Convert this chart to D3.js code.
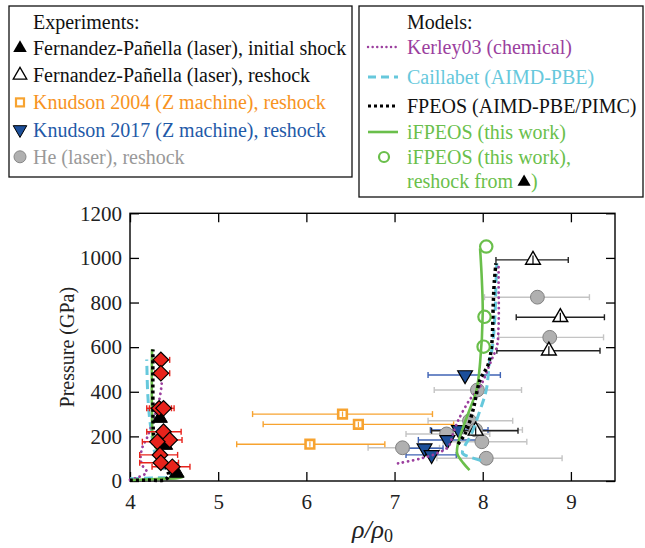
<!DOCTYPE html>
<html><head><meta charset="utf-8">
<script src="https://cdn.jsdelivr.net/npm/d3@7"></script>
<style>
body{margin:0;background:#fff}
svg{display:block;font-family:"Liberation Serif","Times New Roman",serif}
</style></head><body>
<svg width="645" height="548"></svg>
<script>
// [rho/rho0, P (GPa)]
const kerleyLeft = [[4.0,5],[4.1,18],[4.19,40],[4.14,70],[4.12,100],[4.14,150],[4.2,200],[4.27,280],[4.33,360],[4.36,440],[4.36,470]]
const kerleyRight = [[7.04,79],[7.29,100],[7.48,124],[7.61,154],[7.67,220],[7.72,270],[7.85,363],[7.97,423],[8.1,543],[8.16,602],[8.18,700],[8.18,886],[8.18,965]]
const caillLeft = [[4.0,10],[4.25,14],[4.5,20],[4.45,35],[4.35,70],[4.28,130],[4.25,200],[4.22,290],[4.2,400],[4.19,545]]
const caillRight = [[7.98,92],[7.85,108],[7.77,125],[7.8,160],[7.86,200],[7.97,318],[8.04,408],[8.08,543],[8.11,602],[8.14,752],[8.15,886],[8.16,976]]
const fpeosLeft = [[4.0,3],[4.2,4],[4.4,6],[4.44,25],[4.42,50],[4.36,100],[4.3,150],[4.27,200],[4.26,350],[4.26,590]]
const fpeosRight = [[7.72,165],[7.78,199],[7.82,229],[7.89,318],[7.97,453],[8.06,520],[8.1,602],[8.12,800],[8.13,886],[8.15,976]]
const ifpeosLeft = [[4.0,4],[4.3,9],[4.6,19],[4.49,42],[4.38,100],[4.27,170],[4.25,300],[4.25,590]]
const ifpeosRight = [[7.85,49],[7.78,80],[7.71,124],[7.72,169],[7.78,244],[7.85,318],[7.93,408],[7.97,529],[8.0,752],[7.99,901],[7.97,1043]]
const ifpeosReshock = [[8.04,1051],[8.02,736],[8.01,602]]

// [rho/rho0, P, rho low, rho high]
const fpInitial = [[4.34,282,4.34,4.34],[4.4,161,4.4,4.4],[4.53,36,4.53,4.53]]
const fpReshock = [[8.57,991,8.15,8.97],[8.88,734,8.38,9.38],[8.75,584,8.16,9.33],[7.92,225,7.42,8.4]]
const knudson2004 = [[6.41,300,5.39,7.43],[6.59,254,5.51,7.67],[6.04,165,5.21,6.89]]
const knudson2017 = [[7.8,475,7.38,8.2],[7.73,229,7.41,8.06],[7.6,184,7.27,7.97],[7.34,147,7.16,7.55],[7.42,117,7.13,7.7]]
const heReshock = [[8.62,824,8.02,9.21],[8.76,644,8.18,9.37],[7.94,408,7.45,8.44],[7.85,270,7.38,8.34],[7.92,229,7.4,8.45],[7.59,211,7.13,8.08],[7.99,176,7.55,8.5],[7.09,149,6.7,7.51],[8.04,102,7.48,8.9]]
const redPoints = [[4.35,543,4.29,4.45],[4.35,483,4.28,4.45],[4.33,326,4.19,4.47],[4.38,326,4.22,4.5],[4.38,221,4.19,4.58],[4.45,184,4.32,4.59],[4.31,176,4.14,4.45],[4.34,117,4.11,4.54],[4.35,82,4.11,4.55],[4.48,64,4.25,4.68]]

const xTicks = [4,5,6,7,8,9]
const yTicks = [0,200,400,600,800,1000,1200]

const col = {kerley:'#9b3f9e', caill:'#66c8dc', fpeos:'#000', ifpeos:'#6abf4b', orange:'#f7a330', orangeText:'#f7931e',
  blue:'#1c4f9a', blueText:'#1f5aa8', gray:'#b0b0b0', grayText:'#999', red:'#e8231c'}

const svg = d3.select('svg')
const x = d3.scaleLinear().domain([4, 9.5]).range([130, 615])
const y = d3.scaleLinear().domain([0, 1200]).range([481, 213.3])

// axes
const tickFont = g => g.selectAll('text').attr('font-size', 21).attr('fill', '#222').attr('font-family', '"Liberation Serif",serif')
svg.append('g').attr('transform', `translate(0,${y(0)})`)
  .call(d3.axisBottom(x).tickValues(xTicks).tickSize(-9).tickPadding(13).tickFormat(d3.format('d')))
  .call(g => g.select('.domain').remove()).call(tickFont)
svg.append('g').attr('transform', `translate(${x(4)},0)`)
  .call(d3.axisLeft(y).tickValues(yTicks).tickSize(-9).tickPadding(8).tickFormat(d3.format('d')))
  .call(g => g.select('.domain').remove()).call(tickFont)
svg.append('g').attr('transform', `translate(0,${y(1200)})`)
  .call(d3.axisTop(x).tickValues(xTicks).tickSize(-9).tickFormat(''))
  .call(g => g.select('.domain').remove())
svg.append('g').attr('transform', `translate(${x(9.5)},0)`)
  .call(d3.axisRight(y).tickValues(yTicks).tickSize(-9).tickFormat(''))
  .call(g => g.select('.domain').remove())
svg.selectAll('.tick line').attr('stroke', '#000').attr('stroke-width', 1.3)
svg.append('rect').attr('x', x(4)).attr('y', y(1200)).attr('width', x(9.5) - x(4)).attr('height', y(0) - y(1200))
  .attr('fill', 'none').attr('stroke', '#000').attr('stroke-width', 1.4)

svg.append('text').attr('transform', `translate(74,${(y(0) + y(1200)) / 2}) rotate(-90)`)
  .attr('text-anchor', 'middle').attr('font-size', 20).attr('fill', '#222').text('Pressure (GPa)')
const xl = svg.append('text').attr('x', (x(4) + x(9.5)) / 2).attr('y', 538).attr('text-anchor', 'middle')
  .attr('font-size', 26).attr('fill', '#222')
xl.append('tspan').attr('font-style', 'italic').text('ρ/ρ')
xl.append('tspan').attr('font-size', 18).attr('dy', 4).text('0')

const plot = svg.append('g')

function errorBars(data, color, cap = 3) {
  const g = plot.append('g').attr('stroke', color).attr('stroke-width', 1.4)
  data.filter(d => d[3] > d[2]).forEach(d => {
    g.append('line').attr('x1', x(d[2])).attr('x2', x(d[3])).attr('y1', y(d[1])).attr('y2', y(d[1]))
    g.append('line').attr('x1', x(d[2])).attr('x2', x(d[2])).attr('y1', y(d[1]) - cap).attr('y2', y(d[1]) + cap)
    g.append('line').attr('x1', x(d[3])).attr('x2', x(d[3])).attr('y1', y(d[1]) - cap).attr('y2', y(d[1]) + cap)
  })
}
function vBars(data, color, dp) {
  const g = plot.append('g').attr('stroke', color).attr('stroke-width', 1.2)
  data.forEach(d => {
    g.append('line').attr('x1', x(d[0])).attr('x2', x(d[0])).attr('y1', y(d[1] - dp)).attr('y2', y(d[1] + dp))
  })
}
function symbols(data, type, size, fill, stroke, rot = 0, sw = 1.2) {
  plot.append('g').selectAll('path').data(data).join('path')
    .attr('d', d3.symbol(type, size))
    .attr('transform', d => `translate(${x(d[0])},${y(d[1])}) rotate(${rot})`)
    .attr('fill', fill).attr('stroke', stroke).attr('stroke-width', sw)
}

// experiments behind curves
errorBars(heReshock, '#c4c4c4')
errorBars(knudson2004, col.orange)
errorBars(knudson2017, '#3f63b5')
errorBars(fpReshock, '#222')
symbols(heReshock, d3.symbolCircle, 150, col.gray, '#808080', 0, 1)
symbols(knudson2004, d3.symbolSquare, 75, '#fff', col.orange, 0, 2.6)
vBars(knudson2004, col.orange, 12)
symbols(knudson2017, d3.symbolTriangle, 95, col.blue, '#000', 180, 1.2)
symbols(fpReshock, d3.symbolTriangle, 95, '#fff', '#000', 0, 1.4)
vBars(fpReshock, '#000', 20)

// models
const line = d3.line().x(d => x(d[0])).y(d => y(d[1])).curve(d3.curveCatmullRom)
function curve(data, color, width, dash, cap = 'butt') {
  plot.append('path').datum(data).attr('d', line).attr('fill', 'none').attr('stroke', color)
    .attr('stroke-width', width).attr('stroke-dasharray', dash).attr('stroke-linecap', cap)
}
curve(caillLeft, col.caill, 3, '9,5')
curve(caillRight, col.caill, 3, '9,5')
curve(kerleyLeft, col.kerley, 2.8, '0.1,5', 'round')
curve(kerleyRight, col.kerley, 2.8, '0.1,5', 'round')
curve(ifpeosLeft, col.ifpeos, 2.6, null)
curve(ifpeosRight, col.ifpeos, 2.6, null)
curve(fpeosLeft, col.fpeos, 3.5, '3,3')
curve(fpeosRight, col.fpeos, 3.5, '3,3')
symbols(ifpeosReshock, d3.symbolCircle, 120, 'none', col.ifpeos, 0, 2.2)

// left cluster on top
symbols(fpInitial, d3.symbolTriangle, 95, '#000', '#000', 0, 1)
errorBars(redPoints, col.red)
symbols(redPoints, d3.symbolSquare, 120, col.red, '#000', 45, 1.2)

// legends
const lg = svg.append('g').attr('font-size', 20)
lg.append('rect').attr('x', 9).attr('y', 6).attr('width', 343).attr('height', 171).attr('fill', '#fff').attr('stroke', '#111').attr('stroke-width', 1.3)
lg.append('rect').attr('x', 359).attr('y', 6).attr('width', 284).attr('height', 191).attr('fill', '#fff').attr('stroke', '#111').attr('stroke-width', 1.3)

const expItems = [
  ['Fernandez-Pañella (laser), initial shock', '#111', g => g.append('path').attr('d', d3.symbol(d3.symbolTriangle, 80)).attr('fill', '#000')],
  ['Fernandez-Pañella (laser), reshock', '#111', g => g.append('path').attr('d', d3.symbol(d3.symbolTriangle, 80)).attr('fill', '#fff').attr('stroke', '#000').attr('stroke-width', 1.3)],
  ['Knudson 2004 (Z machine), reshock', col.orangeText, g => g.append('rect').attr('x', -4).attr('y', -4).attr('width', 8).attr('height', 8).attr('fill', '#fff').attr('stroke', col.orange).attr('stroke-width', 2.2)],
  ['Knudson 2017 (Z machine), reshock', col.blueText, g => g.append('path').attr('d', d3.symbol(d3.symbolTriangle, 80)).attr('transform', 'rotate(180)').attr('fill', col.blue).attr('stroke', '#000')],
  ['He (laser), reshock', col.grayText, g => g.append('circle').attr('r', 6).attr('fill', col.gray).attr('stroke', '#888')]
]
lg.append('text').attr('x', 33).attr('y', 22).attr('dy', '0.35em').attr('fill', '#111').text('Experiments:')
expItems.forEach((it, i) => {
  const cy = 48 + i * 27.2
  it[2](lg.append('g').attr('transform', `translate(20,${cy})`))
  lg.append('text').attr('x', 33).attr('y', cy).attr('dy', '0.35em').attr('fill', it[1]).text(it[0])
})

lg.append('text').attr('x', 407).attr('y', 22).attr('dy', '0.35em').attr('fill', '#111').text('Models:')
const modItems = [
  ['Kerley03 (chemical)', col.kerley, col.kerley, 2.4, '0.1,4.5', 'round'],
  ['Caillabet (AIMD-PBE)', col.caill, col.caill, 3, '8,5', 'butt'],
  ['FPEOS (AIMD-PBE/PIMC)', '#111', '#000', 3, '3,3', 'butt'],
  ['iFPEOS (this work)', col.ifpeos, col.ifpeos, 2.6, null, 'butt']
]
const myy = [47, 77, 106, 132]
modItems.forEach((it, i) => {
  lg.append('line').attr('x1', 368).attr('x2', 398).attr('y1', myy[i]).attr('y2', myy[i])
    .attr('stroke', it[2]).attr('stroke-width', it[3]).attr('stroke-dasharray', it[4]).attr('stroke-linecap', it[5])
  lg.append('text').attr('x', 407).attr('y', myy[i]).attr('dy', '0.35em').attr('fill', it[1]).text(it[0])
})
lg.append('circle').attr('cx', 384).attr('cy', 157).attr('r', 5).attr('fill', 'none').attr('stroke', col.ifpeos).attr('stroke-width', 2.2)
lg.append('text').attr('x', 407).attr('y', 157).attr('dy', '0.35em').attr('fill', col.ifpeos).text('iFPEOS (this work),')
const rt = lg.append('text').attr('x', 407).attr('y', 181).attr('dy', '0.35em').attr('fill', col.ifpeos).text('reshock from')
const w = rt.node().getComputedTextLength()
lg.append('path').attr('d', d3.symbol(d3.symbolTriangle, 75)).attr('transform', `translate(${407 + w + 11},${181 + 1})`).attr('fill', '#000')
lg.append('text').attr('x', 407 + w + 18).attr('y', 181).attr('dy', '0.35em').attr('fill', col.ifpeos).text(')')
</script>
</body></html>
